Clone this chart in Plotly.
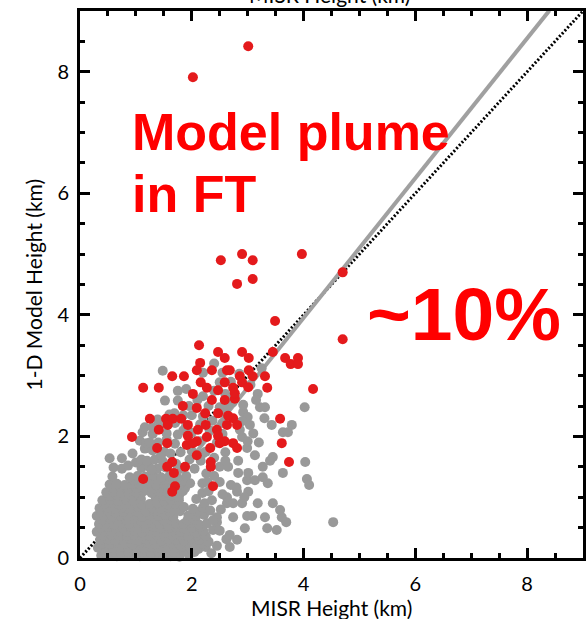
import plotly.graph_objects as go

# ---- data (km) ----
red_pts = [
    (2.02, 7.91), (3.01, 8.42), (2.52, 4.90), (2.90, 5.00), (3.09, 4.90), (2.81, 4.51),
    (3.09, 4.59), (3.97, 5.00), (4.70, 4.70), (3.49, 3.90), (4.70, 3.60), (3.45, 3.39),
    (3.67, 3.29), (3.90, 3.29), (3.77, 3.19), (3.90, 3.19), (4.17, 2.78), (2.13, 3.50),
    (2.47, 3.39), (2.90, 3.39), (2.59, 3.29), (3.02, 3.29), (1.86, 2.99), (2.15, 3.21),
    (2.36, 3.09), (2.63, 3.09), (3.02, 3.09), (3.31, 2.99), (2.86, 2.99), (3.09, 2.99),
    (3.35, 2.80), (3.58, 2.29), (3.61, 1.89), (3.74, 1.58), (2.74, 1.89), (2.74, 2.30),
    (2.77, 2.62), (2.74, 2.80), (2.90, 2.89), (2.68, 3.09), (2.09, 3.09), (1.65, 2.99),
    (2.16, 2.89), (2.27, 2.80), (2.59, 2.89), (1.13, 2.80), (1.41, 2.80), (2.47, 2.76),
    (2.02, 2.70), (2.36, 2.60), (2.59, 2.60), (1.84, 2.50), (2.09, 2.47), (2.24, 2.38),
    (2.47, 2.38), (2.65, 2.34), (1.25, 2.29), (1.54, 2.29), (1.66, 2.29), (1.81, 2.29),
    (1.57, 2.19), (1.41, 2.11), (1.93, 2.19), (2.11, 2.11), (2.25, 2.19), (2.45, 2.11),
    (2.63, 2.19), (2.81, 2.19), (1.93, 2.01), (2.47, 2.01), (2.09, 1.92), (2.27, 1.99),
    (2.59, 1.92), (0.93, 1.99), (1.56, 1.89), (1.38, 1.81), (1.91, 1.86), (2.33, 1.81),
    (2.81, 1.81), (2.02, 1.89), (2.09, 1.69), (1.65, 1.58), (1.56, 1.50), (1.88, 1.50),
    (1.68, 1.40), (1.13, 1.30), (1.70, 1.18), (1.65, 1.09), (2.50, 1.89), (2.34, 1.58),
    (2.34, 1.50), (2.38, 1.18), (3.01, 2.81), (2.77, 2.71),
]

gray_pts = [
    (0.38, 0.04), (0.52, 0.05), (0.58, -0.06), (0.66, 0.03), (0.80, 0.05), (0.93, 0.04),
    (1.07, 0.03), (1.20, 0.05), (1.34, 0.04), (1.48, 0.06), (1.62, 0.03), (1.78, 0.02),
    (1.95, 0.05),
    (0.45, 0.10), (0.59, 0.11), (0.73, 0.09), (0.87, 0.10), (1.00, 0.11), (1.13, 0.10),
    (1.27, 0.09), (1.41, 0.11), (1.55, 0.10), (1.69, 0.09), (1.86, 0.11), (2.05, 0.10),
    (0.32, 0.17), (0.46, 0.18), (0.60, 0.16), (0.73, 0.18), (0.87, 0.17), (1.00, 0.19),
    (1.14, 0.16), (1.27, 0.18), (1.41, 0.17), (1.55, 0.19), (1.69, 0.16), (1.83, 0.18),
    (1.97, 0.17), (2.12, 0.15), (2.25, 0.18), (2.68, 0.18),
    (0.40, 0.24), (0.53, 0.23), (0.67, 0.25), (0.80, 0.24), (0.94, 0.23), (1.08, 0.25),
    (1.22, 0.24), (1.35, 0.23), (1.50, 0.25), (1.64, 0.24), (1.78, 0.23), (1.92, 0.25),
    (2.06, 0.24), (2.20, 0.23),
    (0.36, 0.30), (0.50, 0.31), (0.63, 0.29), (0.77, 0.30), (0.90, 0.32), (1.04, 0.29),
    (1.18, 0.31), (1.31, 0.30), (1.45, 0.28), (1.58, 0.31), (1.72, 0.30), (1.86, 0.29),
    (2.00, 0.32), (2.14, 0.30), (2.30, 0.27), (2.62, 0.31), (2.81, 0.30),
    (0.42, 0.37), (0.56, 0.38), (0.70, 0.36), (0.84, 0.37), (0.97, 0.38), (1.11, 0.36),
    (1.24, 0.37), (1.38, 0.38), (1.52, 0.36), (1.66, 0.37), (1.80, 0.38), (1.93, 0.36),
    (2.10, 0.37), (2.25, 0.36),
    (0.30, 0.43), (0.43, 0.44), (0.57, 0.42), (0.70, 0.44), (0.84, 0.43), (0.97, 0.45),
    (1.11, 0.42), (1.25, 0.44), (1.38, 0.43), (1.52, 0.41), (1.65, 0.44), (1.79, 0.43),
    (1.93, 0.45), (2.07, 0.42), (2.21, 0.44), (2.38, 0.46), (2.68, 0.38), (2.95, 0.49),
    (3.35, 0.49), (3.52, 0.46),
    (0.37, 0.50), (0.50, 0.51), (0.64, 0.49), (0.77, 0.50), (0.91, 0.51), (1.04, 0.49),
    (1.18, 0.50), (1.32, 0.51), (1.45, 0.49), (1.59, 0.50), (1.72, 0.51), (1.86, 0.49),
    (2.00, 0.50), (2.15, 0.51),
    (0.34, 0.56), (0.48, 0.57), (0.61, 0.55), (0.75, 0.57), (0.88, 0.56), (1.02, 0.58),
    (1.16, 0.55), (1.29, 0.57), (1.43, 0.56), (1.57, 0.54), (1.71, 0.57), (1.85, 0.56),
    (1.99, 0.58), (2.13, 0.55), (2.27, 0.57), (2.45, 0.59), (3.69, 0.59), (4.53, 0.59),
    (0.40, 0.63), (0.54, 0.64), (0.68, 0.62), (0.82, 0.63), (0.95, 0.64), (1.09, 0.62),
    (1.23, 0.63), (1.36, 0.64), (1.50, 0.62), (1.64, 0.63), (1.92, 0.62), (2.06, 0.63),
    (0.30, 0.69), (0.44, 0.70), (0.57, 0.68), (0.71, 0.70), (0.85, 0.69), (0.98, 0.71),
    (1.12, 0.68), (1.26, 0.70), (1.40, 0.69), (1.53, 0.71), (1.67, 0.68), (1.94, 0.70),
    (2.08, 0.69), (2.22, 0.71), (2.45, 0.67), (2.74, 0.67), (2.99, 0.69), (3.08, 0.69),
    (3.31, 0.67), (3.61, 0.67),
    (0.37, 0.76), (0.51, 0.77), (0.64, 0.75), (0.78, 0.76), (0.92, 0.77), (1.06, 0.75),
    (1.19, 0.76), (1.33, 0.77), (1.47, 0.75), (1.61, 0.76), (1.79, 0.77), (2.10, 0.76),
    (0.35, 0.82), (0.49, 0.83), (0.63, 0.81), (0.76, 0.83), (0.90, 0.82), (1.04, 0.84),
    (1.30, 0.82), (1.44, 0.81), (1.58, 0.83), (1.72, 0.82), (1.86, 0.84), (2.02, 0.81),
    (2.20, 0.83), (3.58, 0.79),
    (0.43, 0.89), (0.57, 0.90), (0.70, 0.88), (0.84, 0.89), (0.97, 0.90), (1.11, 0.88),
    (1.25, 0.89), (1.39, 0.90), (1.56, 0.88), (1.70, 0.89),
    (0.40, 0.95), (0.55, 0.96), (0.68, 0.94), (0.82, 0.96), (0.95, 0.95), (1.09, 0.97),
    (1.36, 0.95), (1.50, 0.94), (1.63, 0.96), (1.77, 0.95), (2.08, 0.97), (2.23, 0.90),
    (2.63, 0.90), (2.74, 0.90), (2.90, 0.90), (3.18, 0.90), (3.45, 0.90), (2.63, 1.00),
    (0.53, 1.02), (0.67, 1.03), (0.81, 1.01), (0.94, 1.02), (1.08, 1.03), (1.35, 1.01),
    (1.49, 1.02), (1.63, 1.03), (1.77, 1.01),
    (0.47, 1.08), (0.60, 1.09), (0.74, 1.07), (0.87, 1.09), (1.01, 1.08), (1.14, 1.10),
    (1.28, 1.07), (1.42, 1.09), (1.56, 1.08), (1.84, 1.10), (2.19, 1.07), (2.81, 1.09),
    (3.01, 1.09), (2.94, 1.00),
    (0.60, 1.15), (0.73, 1.16), (0.87, 1.14), (1.01, 1.15), (1.15, 1.16), (1.29, 1.14),
    (1.43, 1.15), (1.57, 1.16), (1.71, 1.14), (1.88, 1.15),
    (0.53, 1.21), (0.66, 1.22), (0.80, 1.20), (0.94, 1.22), (1.08, 1.21), (1.22, 1.23),
    (1.36, 1.20), (1.50, 1.22), (1.78, 1.21), (1.97, 1.23), (2.19, 1.23), (2.80, 1.16),
    (2.99, 1.28), (3.13, 1.28), (3.36, 1.23),
    (0.96, 1.28), (1.10, 1.29), (1.24, 1.27), (1.38, 1.28), (1.52, 1.29), (1.67, 1.27),
    (1.83, 1.28),
    (0.58, 1.34), (0.89, 1.33), (1.03, 1.35), (1.17, 1.34), (1.31, 1.36), (1.45, 1.33),
    (1.60, 1.35), (1.74, 1.32), (1.90, 1.35), (2.26, 1.39), (3.27, 1.33), (4.06, 1.30),
    (4.10, 1.20),
    (0.60, 1.49), (0.75, 1.47), (0.86, 1.52), (1.10, 1.48), (1.24, 1.50), (1.38, 1.47),
    (1.53, 1.49), (1.82, 1.48), (2.05, 1.47), (2.65, 1.50), (2.83, 1.40), (3.01, 1.40),
    (3.27, 1.50), (3.63, 1.40),
    (0.53, 1.64), (0.75, 1.64), (0.94, 1.72), (1.00, 1.57), (1.10, 1.62), (1.20, 1.60),
    (1.34, 1.62), (1.48, 1.59), (1.96, 1.62), (2.16, 1.60), (2.83, 1.60), (3.40, 1.60),
    (4.03, 1.58), (3.13, 1.69),
    (1.16, 1.80), (1.30, 1.77), (1.50, 1.75), (1.80, 1.74), (2.00, 1.76), (2.20, 1.72),
    (2.99, 1.81), (2.60, 1.74), (3.45, 1.66),
    (1.07, 1.93), (1.19, 1.89), (1.40, 1.90), (1.70, 1.88), (2.15, 1.92), (2.45, 1.90),
    (2.90, 1.99), (3.00, 1.92),
    (1.12, 2.07), (1.30, 2.04), (1.55, 2.05), (1.75, 2.03), (2.00, 2.06), (2.32, 2.10),
    (2.55, 2.04), (2.86, 2.11), (3.63, 2.07), (3.72, 2.07),
    (1.16, 2.15), (1.30, 2.15), (1.45, 2.20), (1.70, 2.22), (1.90, 2.18), (2.37, 2.26),
    (2.55, 2.22), (3.04, 2.19), (3.43, 2.19), (3.79, 2.19),
    (1.39, 2.28), (1.60, 2.36), (1.69, 2.38), (2.00, 2.35), (2.20, 2.33), (2.58, 2.38),
    (2.92, 2.40), (3.00, 2.32),
    (1.52, 2.59), (1.75, 2.59), (1.95, 2.50), (2.50, 2.48), (2.67, 2.64), (2.92, 2.52),
    (3.22, 2.48), (3.31, 2.48), (4.02, 2.48),
    (2.20, 2.66), (3.18, 2.70), (1.90, 2.78), (2.50, 2.89), (2.73, 2.56), (3.05, 2.85),
    (1.48, 3.08), (2.40, 3.20), (2.20, 3.05), (2.85, 3.03), (3.25, 3.12),
    (2.35, 0.08), (2.45, 0.20), (2.50, 0.45), (2.38, 0.62), (2.33, 0.78), (2.52, 0.80),
    (2.36, 0.95), (2.55, 1.05), (2.30, 1.10), (2.28, 1.25), (2.50, 1.25), (2.40, 1.35),
    (2.70, 1.20), (1.28, 1.45), (1.45, 1.70), (1.62, 1.72), (1.72, 1.55), (1.25, 1.90),
    (1.55, 1.95), (1.85, 2.10), (2.15, 2.20), (2.25, 1.75), (2.40, 1.65), (2.50, 1.50),
    (2.60, 1.60), (2.65, 2.50), (2.40, 2.75), (2.30, 2.50), (1.85, 2.35), (2.10, 2.60),
    (2.90, 2.25), (3.10, 2.05), (3.20, 1.90), (3.30, 2.30), (3.15, 2.60), (2.60, 2.70),
    (2.55, 3.05), (2.70, 2.90), (1.75, 2.75),
]

fit_slope = 1.15
fit_intercept = -0.65
fit_x = [0.57, 8.40]
one_to_one = [0.0, 9.0]

axis_range = [0, 9]
tick_vals = [0, 2, 4, 6, 8]
x_title = "MISR Height (km)"
y_title = "1-D Model Height (km)"

gray_x = [p[0] for p in gray_pts]
gray_y = [p[1] for p in gray_pts]
red_x = [p[0] for p in red_pts]
red_y = [p[1] for p in red_pts]
fit_y = [fit_slope * v + fit_intercept for v in fit_x]

fig = go.Figure()
fig.add_trace(go.Scatter(x=one_to_one, y=one_to_one, mode="lines",
                         line=dict(color="black", width=3, dash="2px,2px"),
                         hoverinfo="skip"))
fig.add_trace(go.Scatter(x=fit_x, y=fit_y, mode="lines",
                         line=dict(color="#a0a0a0", width=4), hoverinfo="skip"))
fig.add_trace(go.Scatter(x=gray_x, y=gray_y, mode="markers", cliponaxis=False,
                         marker=dict(color="#999999", size=10, line=dict(width=0))))
fig.add_trace(go.Scatter(x=red_x, y=red_y, mode="markers", cliponaxis=False,
                         marker=dict(color="#e41a1c", size=10, line=dict(width=0))))

axis_common = dict(
    range=axis_range, tickvals=tick_vals, showgrid=False, zeroline=False,
    showline=True, linecolor="black", linewidth=3, mirror="ticks",
    ticks="inside", ticklen=10, tickwidth=3, tickcolor="black",
    minor=dict(dtick=0.5, ticks="inside", ticklen=5, tickwidth=3, tickcolor="black"),
    tickfont=dict(family="Lato", size=20, color="black"), automargin=False,
)
fig.update_xaxes(**axis_common, ticklabelstandoff=6)
fig.update_yaxes(**axis_common, ticklabelstandoff=4)

fig.update_layout(
    width=588, height=619, showlegend=False,
    plot_bgcolor="white", paper_bgcolor="white",
    margin=dict(l=80, r=5, t=11, b=61),
    annotations=[
        dict(text=x_title, xref="paper", yref="paper", x=0.5, y=0, yanchor="middle",
             yshift=-49, showarrow=False, font=dict(family="Lato", size=21, color="black")),
        dict(text=x_title, xref="paper", yref="paper", x=0.497, y=1, yanchor="bottom",
             yshift=2, showarrow=False, font=dict(family="Lato", size=21, color="black")),
        dict(text=y_title, xref="paper", yref="paper", x=0, y=0.5, xanchor="center",
             xshift=-47, textangle=-90, showarrow=False,
             font=dict(family="Lato", size=21, color="black")),
        dict(text="<b>Model plume</b>", xref="paper", yref="paper", x=0.099, y=0.779,
             xanchor="left", yanchor="middle", showarrow=False,
             font=dict(family="Liberation Sans", size=52, color="#ff0000")),
        dict(text="<b>in FT</b>", xref="paper", yref="paper", x=0.099, y=0.665,
             xanchor="left", yanchor="middle", showarrow=False,
             font=dict(family="Liberation Sans", size=52, color="#ff0000")),
        dict(text="<b>~10%</b>", xref="paper", yref="paper", x=0.567, y=0.446,
             xanchor="left", yanchor="middle", showarrow=False,
             font=dict(family="Liberation Sans", size=75, color="#ff0000")),
    ],
)

fig.write_html("out.html", config={"displayModeBar": False},
               post_script="document.body.style.margin='0';document.body.style.overflow='hidden';")
